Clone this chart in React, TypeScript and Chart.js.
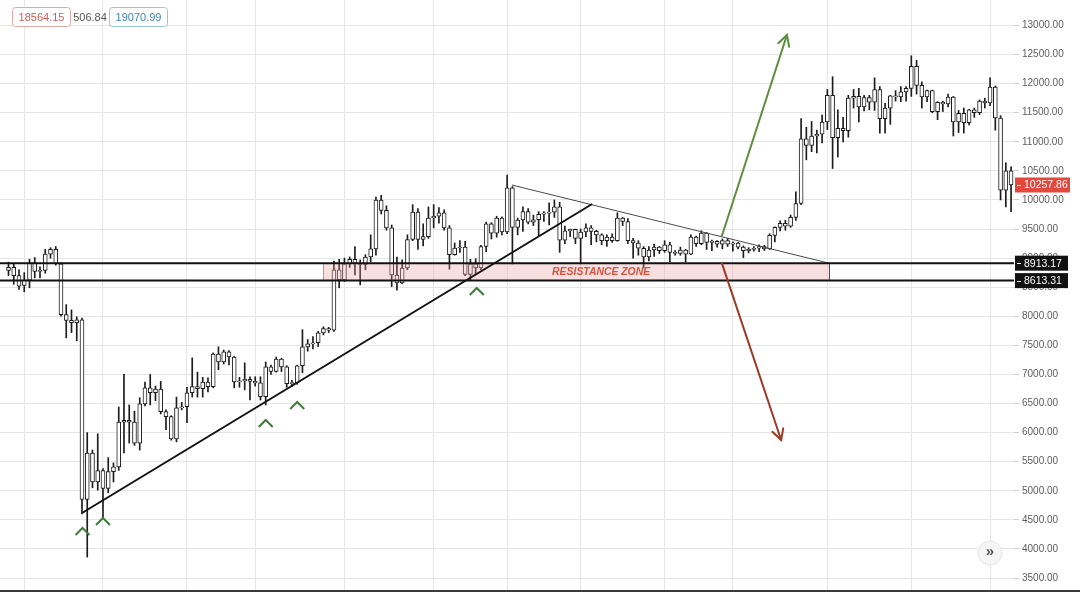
import { useEffect, useRef } from 'react';
import { Chart, registerables } from 'chart.js';

Chart.register(...registerables);

// ---------- categories (daily candles, 2020) ----------
const dates: string[] = [
  '02-27', '02-28', '02-29',
  '03-01', '03-02', '03-03', '03-04', '03-05', '03-06', '03-07', '03-08', '03-09', '03-10',
  '03-11', '03-12', '03-13', '03-14', '03-15', '03-16', '03-17', '03-18', '03-19', '03-20',
  '03-21', '03-22', '03-23', '03-24', '03-25', '03-26', '03-27', '03-28', '03-29', '03-30', '03-31',
  '04-01', '04-02', '04-03', '04-04', '04-05', '04-06', '04-07', '04-08', '04-09', '04-10',
  '04-11', '04-12', '04-13', '04-14', '04-15', '04-16', '04-17', '04-18', '04-19', '04-20',
  '04-21', '04-22', '04-23', '04-24', '04-25', '04-26', '04-27', '04-28', '04-29', '04-30',
  '05-01', '05-02', '05-03', '05-04', '05-05', '05-06', '05-07', '05-08', '05-09', '05-10',
  '05-11', '05-12', '05-13', '05-14', '05-15', '05-16', '05-17', '05-18', '05-19', '05-20',
  '05-21', '05-22', '05-23', '05-24', '05-25', '05-26', '05-27', '05-28', '05-29', '05-30', '05-31',
  '06-01', '06-02', '06-03', '06-04', '06-05', '06-06', '06-07', '06-08', '06-09', '06-10',
  '06-11', '06-12', '06-13', '06-14', '06-15', '06-16', '06-17', '06-18', '06-19', '06-20',
  '06-21', '06-22', '06-23', '06-24', '06-25', '06-26', '06-27', '06-28', '06-29', '06-30',
  '07-01', '07-02', '07-03', '07-04', '07-05', '07-06', '07-07', '07-08', '07-09', '07-10',
  '07-11', '07-12', '07-13', '07-14', '07-15', '07-16', '07-17', '07-18', '07-19', '07-20',
  '07-21', '07-22', '07-23', '07-24', '07-25', '07-26', '07-27', '07-28', '07-29', '07-30', '07-31',
  '08-01', '08-02', '08-03', '08-04', '08-05', '08-06', '08-07', '08-08', '08-09', '08-10',
  '08-11', '08-12', '08-13', '08-14', '08-15', '08-16', '08-17', '08-18', '08-19', '08-20',
  '08-21', '08-22', '08-23', '08-24', '08-25', '08-26', '08-27', '08-28', '08-29', '08-30', '08-31',
  '09-01', '09-02', '09-03', '09-04', '09-05',
];

// ---------- OHLC series ----------
const openPrices: number[] = [
  // Feb
  8790, 8840, 8700,
  // Mar
  8530, 8620, 8920, 8770, 8790, 9070, 9150, 8900, 8030, 7930,
  7890, 7940, 4850, 5650, 5150, 5345, 5040, 5330, 5410, 6180,
  6210, 6180, 5820, 6495, 6770, 6685, 6750, 6360, 6275, 5890, 6425,
  // Apr
  6445, 6685, 6790, 6755, 6870, 6790, 7350, 7215, 7390, 7300,
  6870, 6890, 6915, 6880, 6855, 6620, 7130, 7050, 7265, 7130,
  6840, 6860, 7150, 7475, 7525, 7545, 7715, 7790, 7760, 8800,
  // May
  8625, 8900, 8980, 8910, 8890, 9020, 9160, 10000, 9820, 9520,
  8710, 8575, 8830, 9320, 9790, 9320, 9370, 9690, 9720, 9780,
  9520, 9060, 9175, 9190, 8720, 8900, 8830, 9200, 9590, 9430, 9690,
  // Jun
  9450, 10210, 9530, 9656, 9800, 9620, 9660, 9755, 9775, 9790,
  9880, 9310, 9470, 9495, 9340, 9450, 9520, 9460, 9400, 9300,
  9360, 9300, 9690, 9630, 9300, 9260, 9170, 9020, 9140, 9190,
  // Jul
  9130, 9230, 9100, 9080, 9140, 9070, 9360, 9250, 9430, 9270,
  9290, 9240, 9300, 9240, 9260, 9190, 9130, 9150, 9170, 9200,
  9160, 9390, 9530, 9600, 9550, 9700, 9940, 11050, 10940, 11100, 11130,
  // Aug
  11340, 11800, 11070, 11230, 11190, 11750, 11780, 11600, 11760, 11680,
  11900, 11400, 11580, 11790, 11770, 11860, 11920, 12300, 11970, 11770,
  11880, 11520, 11680, 11650, 11770, 11340, 11490, 11330, 11550, 11500, 11700,
  // Sep
  11670, 11940, 11410, 10170, 10500,
];

const highPrices: number[] = [
  // Feb
  8930, 8910, 8800,
  // Mar
  8750, 8980, 9010, 8850, 9150, 9180, 9200, 8920, 8200, 8110,
  7990, 7970, 6000, 5700, 5980, 5380, 5570, 5480, 6440, 7000,
  6475, 6370, 6600, 6870, 7000, 6800, 6880, 6390, 6290, 6610, 6520,
  // Apr
  6780, 7285, 7040, 6950, 6940, 7370, 7475, 7420, 7410, 7310,
  6950, 7200, 6960, 6960, 6960, 7215, 7160, 7300, 7280, 7150,
  6900, 7160, 7770, 7600, 7650, 7740, 7820, 7810, 8950, 8980,
  // May
  9000, 9020, 9200, 8970, 9060, 9400, 10050, 10080, 9900, 9570,
  9020, 8970, 9400, 9920, 9850, 9590, 9880, 9920, 9870, 9830,
  9560, 9260, 9300, 9290, 8980, 8990, 9220, 9620, 9610, 9720, 9710,
  // Jun
  10430, 10230, 9690, 9880, 9850, 9740, 9800, 9800, 9950, 10000,
  9960, 9550, 9500, 9500, 9500, 9590, 9560, 9480, 9420, 9400,
  9420, 9780, 9700, 9680, 9340, 9300, 9200, 9200, 9240, 9200,
  // Jul
  9300, 9270, 9130, 9190, 9150, 9400, 9380, 9470, 9440, 9310,
  9300, 9330, 9340, 9280, 9270, 9210, 9180, 9200, 9230, 9220,
  9420, 9540, 9640, 9650, 9740, 10140, 11400, 11250, 11350, 11200, 11460,
  // Aug
  11900, 12120, 11550, 11420, 11800, 11900, 11920, 11800, 11800, 12100,
  11950, 11660, 11800, 11880, 11950, 11950, 12480, 12400, 12030, 11890,
  11890, 11690, 11700, 11820, 11780, 11540, 11580, 11560, 11580, 11720, 11750,
  // Sep
  12100, 11960, 11450, 10640, 10570,
];

const lowPrices: number[] = [
  // Feb
  8700, 8550, 8460,
  // Mar
  8420, 8490, 8660, 8660, 8740, 9000, 8880, 8000, 7630, 7720,
  7580, 4600, 3860, 5050, 5010, 4520, 4965, 5150, 5350, 5650,
  5820, 5780, 5700, 6460, 6475, 6550, 6320, 6050, 5870, 5840, 6390,
  // Apr
  6170, 6610, 6610, 6610, 6700, 6770, 7080, 7180, 7165, 6770,
  6780, 6735, 6560, 6800, 6560, 6475, 7000, 7040, 7050, 6780,
  6790, 6830, 7030, 7400, 7440, 7480, 7680, 7720, 7740, 8490,
  // May
  8600, 8840, 8710, 8540, 8800, 8940, 9050, 9760, 9480, 8510,
  8450, 8560, 8800, 9300, 9150, 9210, 9340, 9520, 9600, 9480,
  8810, 9050, 9100, 8700, 8630, 8720, 8800, 9110, 9330, 9360, 9400,
  // Jun
  9420, 8900, 9400, 9460, 9590, 9560, 9380, 9630, 9570, 9700,
  9100, 9250, 9370, 9250, 8900, 9370, 9230, 9280, 9230, 9200,
  9270, 9290, 9560, 9250, 9000, 9050, 8830, 8950, 9030, 9080,
  // Jul
  9100, 8940, 9050, 9050, 8930, 9060, 9200, 9230, 9150, 9130,
  9190, 9160, 9200, 9120, 9160, 9010, 9090, 9120, 9110, 9130,
  9150, 9280, 9470, 9480, 9530, 9650, 9920, 10690, 10830, 10810, 10980,
  // Aug
  11210, 10540, 10740, 11000, 11080, 11580, 11340, 11530, 11550, 11540,
  11150, 11150, 11300, 11700, 11690, 11700, 11780, 11820, 11580, 11690,
  11500, 11380, 11520, 11600, 11100, 11160, 11150, 11290, 11420, 11470, 11580,
  // Sep
  11620, 11200, 10000, 9880, 9800,
];

const closePrices: number[] = [
  // Feb
  8840, 8700, 8520,
  // Mar
  8620, 8920, 8770, 8790, 9070, 9150, 8900, 8030, 7930, 7890,
  7940, 4850, 5650, 5150, 5345, 5040, 5330, 5410, 6180, 6210,
  6180, 5820, 6495, 6770, 6685, 6750, 6360, 6275, 5890, 6425, 6445,
  // Apr
  6685, 6790, 6755, 6870, 6790, 7350, 7215, 7390, 7300, 6870,
  6890, 6915, 6880, 6855, 6620, 7130, 7050, 7265, 7130, 6840,
  6860, 7150, 7475, 7525, 7545, 7715, 7790, 7760, 8800, 8625,
  // May
  8900, 8980, 8910, 8890, 9020, 9160, 10000, 9820, 9520, 8710,
  8575, 8830, 9320, 9790, 9320, 9370, 9690, 9720, 9780, 9520,
  9060, 9175, 9190, 8720, 8900, 8830, 9200, 9590, 9430, 9690, 9450,
  // Jun
  10210, 9530, 9656, 9800, 9620, 9660, 9755, 9775, 9790, 9880,
  9310, 9470, 9495, 9340, 9450, 9520, 9460, 9400, 9300, 9360,
  9300, 9690, 9630, 9300, 9260, 9170, 9020, 9140, 9190, 9130,
  // Jul
  9230, 9100, 9080, 9140, 9070, 9360, 9250, 9430, 9270, 9290,
  9240, 9300, 9240, 9260, 9190, 9130, 9150, 9170, 9200, 9160,
  9390, 9530, 9600, 9550, 9700, 9940, 11050, 10940, 11100, 11130, 11340,
  // Aug
  11800, 11070, 11230, 11190, 11750, 11780, 11600, 11760, 11680, 11900,
  11400, 11580, 11790, 11770, 11860, 11920, 12300, 11970, 11770, 11880,
  11520, 11680, 11650, 11770, 11340, 11490, 11330, 11550, 11500, 11700, 11670,
  // Sep
  11940, 11410, 10170, 10500, 10257.86,
];

// ---------- axis / labels ----------
const gridDates = ['03-01', '03-16', '04-01', '04-14', '05-01', '05-18', '06-01', '06-15', '07-01', '07-14', '08-01', '08-17', '09-01'];
const priceTicks = [3500, 4000, 4500, 5000, 5500, 6000, 6500, 7000, 7500, 8000, 8500, 9000, 9500, 10000, 10500, 11000, 11500, 12000, 12500, 13000];
const priceMin = 3293.7;
const priceMax = 13438.5;
const resistanceLevels = [8913.17, 8613.31];
const lastPrice = 10257.86;
const headerValues = ['18564.15', '506.84', '19070.99'];

// ---------- drawings, anchored in (candle index, price) ----------
const risingTrend = [[14.0, 4618], [111.2, 9931]];
const fallingTrend = [[95.9, 10257], [156.3, 8913.17]];
const zoneSpan = [59.9, 156.3];
const zoneLabel = { text: 'RESISTANCE ZONE', at: 112.9 };
const bullArrow = [[135.9, 9380], [148.3, 12837]];
const bearArrow = [[135.9, 8913.17], [147.2, 5873]];
const supportMarks = [[14.1, 4360], [18.0, 4532], [49.0, 6217], [55.0, 6526], [89.2, 8486]];

const FONT = '"Liberation Sans", Arial, sans-serif';

function roundRect(ctx: CanvasRenderingContext2D, x: number, y: number, w: number, h: number, r: number) {
  ctx.beginPath();
  ctx.moveTo(x + r, y);
  ctx.lineTo(x + w - r, y);
  ctx.quadraticCurveTo(x + w, y, x + w, y + r);
  ctx.lineTo(x + w, y + h - r);
  ctx.quadraticCurveTo(x + w, y + h, x + w - r, y + h);
  ctx.lineTo(x + r, y + h);
  ctx.quadraticCurveTo(x, y + h, x, y + h - r);
  ctx.lineTo(x, y + r);
  ctx.quadraticCurveTo(x, y, x + r, y);
  ctx.closePath();
}

const drawingsPlugin = {
  id: 'drawings',
  afterDatasetsDraw(chart: any) {
    const { ctx, chartArea: a, scales } = chart;
    const xs = scales.x;
    const ys = scales.y;
    const px = (i: number) => xs.getPixelForValue(i);
    const py = (v: number) => ys.getPixelForValue(v);
    ctx.save();
    ctx.beginPath();
    ctx.rect(a.left, a.top, a.right - a.left, a.bottom - a.top);
    ctx.clip();

    // resistance zone
    const zx1 = px(zoneSpan[0]);
    const zx2 = px(zoneSpan[1]);
    const zy1 = py(resistanceLevels[0]);
    const zy2 = py(resistanceLevels[1]);
    ctx.fillStyle = 'rgba(238, 160, 160, 0.33)';
    ctx.fillRect(zx1, zy1, zx2 - zx1, zy2 - zy1);
    ctx.lineWidth = 1;
    ctx.strokeStyle = 'rgba(205, 130, 130, 0.9)';
    ctx.beginPath();
    ctx.moveTo(Math.round(zx1) + 0.5, zy1);
    ctx.lineTo(Math.round(zx1) + 0.5, zy2);
    ctx.stroke();
    ctx.strokeStyle = 'rgba(60, 40, 40, 0.85)';
    ctx.beginPath();
    ctx.moveTo(Math.round(zx2) + 0.5, zy1);
    ctx.lineTo(Math.round(zx2) + 0.5, zy2);
    ctx.stroke();

    // zone label
    ctx.save();
    ctx.font = `italic bold 11px ${FONT}`;
    ctx.fillStyle = '#d4553f';
    ctx.textAlign = 'center';
    ctx.textBaseline = 'middle';
    const tw = ctx.measureText(zoneLabel.text).width;
    const target = 98;
    const cx = px(zoneLabel.at);
    const cy = (zy1 + zy2) / 2 + 0.5;
    ctx.translate(cx, cy);
    ctx.scale(target / tw, 1);
    ctx.fillText(zoneLabel.text, 0, 0);
    ctx.restore();

    // falling trend (thin)
    ctx.strokeStyle = '#4a4a4a';
    ctx.lineWidth = 1;
    ctx.beginPath();
    ctx.moveTo(px(fallingTrend[0][0]), py(fallingTrend[0][1]));
    ctx.lineTo(px(fallingTrend[1][0]), py(fallingTrend[1][1]));
    ctx.stroke();

    // resistance lines
    ctx.strokeStyle = '#111111';
    ctx.lineWidth = 2;
    resistanceLevels.forEach((lv) => {
      const yy = py(lv);
      ctx.beginPath();
      ctx.moveTo(a.left, yy);
      ctx.lineTo(a.right, yy);
      ctx.stroke();
    });

    // rising trend
    ctx.strokeStyle = '#111111';
    ctx.lineWidth = 2;
    ctx.beginPath();
    ctx.moveTo(px(risingTrend[0][0]), py(risingTrend[0][1]));
    ctx.lineTo(px(risingTrend[1][0]), py(risingTrend[1][1]));
    ctx.stroke();

    // arrows
    const arrow = (pts: number[][], color: string) => {
      const x1 = px(pts[0][0]);
      const y1 = py(pts[0][1]);
      const x2 = px(pts[1][0]);
      const y2 = py(pts[1][1]);
      ctx.strokeStyle = color;
      ctx.lineWidth = 2;
      ctx.lineCap = 'round';
      ctx.beginPath();
      ctx.moveTo(x1, y1);
      ctx.lineTo(x2, y2);
      ctx.stroke();
      const ang = Math.atan2(y2 - y1, x2 - x1);
      const L = 12;
      const spread = 0.5;
      ctx.beginPath();
      ctx.moveTo(x2 - L * Math.cos(ang - spread), y2 - L * Math.sin(ang - spread));
      ctx.lineTo(x2, y2);
      ctx.lineTo(x2 - L * Math.cos(ang + spread), y2 - L * Math.sin(ang + spread));
      ctx.stroke();
    };
    arrow(bullArrow, '#5b8f3c');
    arrow(bearArrow, '#9a3a27');

    // support carets
    ctx.strokeStyle = '#3f7d3a';
    ctx.lineWidth = 2;
    ctx.lineCap = 'butt';
    ctx.lineJoin = 'miter';
    supportMarks.forEach(([i, v]) => {
      const cxm = px(i);
      const cym = py(v);
      ctx.beginPath();
      ctx.moveTo(cxm - 7, cym + 7);
      ctx.lineTo(cxm, cym);
      ctx.lineTo(cxm + 7, cym + 7);
      ctx.stroke();
    });

    ctx.restore();
  },
  afterDraw(chart: any) {
    const { ctx, chartArea: a, scales, width, height } = chart;
    const ys = scales.y;
    const py = (v: number) => ys.getPixelForValue(v);
    ctx.save();

    // price axis labels for levels
    const axisBox = (v: number, txt: string, bg: string, w: number) => {
      const yy = py(v);
      const bx = a.right + 1;
      ctx.fillStyle = bg;
      ctx.fillRect(bx, yy - 7.5, w, 15);
      ctx.strokeStyle = '#ffffff';
      ctx.lineWidth = 1;
      ctx.beginPath();
      ctx.moveTo(bx + 2, Math.round(yy) + 0.5);
      ctx.lineTo(bx + 6, Math.round(yy) + 0.5);
      ctx.stroke();
      ctx.fillStyle = '#ffffff';
      ctx.font = `10.5px ${FONT}`;
      ctx.textAlign = 'left';
      ctx.textBaseline = 'middle';
      ctx.fillText(txt, bx + 9, yy + 0.5);
    };
    axisBox(resistanceLevels[0], resistanceLevels[0].toFixed(2), '#111111', 53);
    axisBox(resistanceLevels[1], resistanceLevels[1].toFixed(2), '#111111', 53);
    axisBox(lastPrice, lastPrice.toFixed(2), '#e4473b', 55);

    // header values
    ctx.font = `11px ${FONT}`;
    ctx.textBaseline = 'middle';
    ctx.textAlign = 'center';
    ctx.lineWidth = 1;
    roundRect(ctx, 12.5, 7.5, 58, 19, 3);
    ctx.fillStyle = '#ffffff';
    ctx.fill();
    ctx.strokeStyle = '#e2a9a6';
    ctx.stroke();
    ctx.fillStyle = '#c9605b';
    ctx.fillText(headerValues[0], 41.5, 17.5);
    ctx.fillStyle = '#555555';
    ctx.fillText(headerValues[1], 90, 17.5);
    roundRect(ctx, 109.5, 7.5, 58, 19, 3);
    ctx.fillStyle = '#ffffff';
    ctx.fill();
    ctx.strokeStyle = '#9cc4de';
    ctx.stroke();
    ctx.fillStyle = '#3c84b8';
    ctx.fillText(headerValues[2], 138.5, 17.5);

    // scroll button
    const bxc = a.right - 24;
    const byc = a.bottom - 37;
    ctx.beginPath();
    ctx.arc(bxc, byc, 12, 0, Math.PI * 2);
    ctx.fillStyle = '#f5f5f5';
    ctx.fill();
    ctx.strokeStyle = '#e6e6e6';
    ctx.stroke();
    ctx.fillStyle = '#555555';
    ctx.font = `bold 15px ${FONT}`;
    ctx.textAlign = 'center';
    ctx.fillText('\u00bb', bxc, byc - 1);

    // bottom border
    ctx.fillStyle = '#3a3a3a';
    ctx.fillRect(0, a.bottom, width, height - a.bottom);
    ctx.restore();
  },
};

export default function App() {
  const ref = useRef<HTMLCanvasElement | null>(null);

  useEffect(() => {
    if (!ref.current) return;
    Chart.defaults.font.family = FONT;
    const bodies = dates.map((_, i) => ({
      x: i,
      y: [Math.min(openPrices[i], closePrices[i]), Math.max(openPrices[i], closePrices[i])],
    }));
    const wicks = dates.map((_, i) => ({ x: i, y: [lowPrices[i], highPrices[i]] }));
    const gridIdx = gridDates.map((d) => dates.indexOf(d));

    const chart = new Chart(ref.current, {
      type: 'bar',
      data: {
        datasets: [
          {
            label: 'body',
            data: bodies as any,
            backgroundColor: '#ffffff',
            borderColor: '#1c1c1c',
            borderWidth: 1,
            borderSkipped: false,
            barThickness: 4,
            grouped: false,
            order: 0,
          } as any,
          {
            label: 'wick',
            data: wicks as any,
            backgroundColor: '#1c1c1c',
            borderWidth: 0,
            barThickness: 1,
            grouped: false,
            order: 1,
          } as any,
        ],
      },
      options: {
        animation: false,
        responsive: true,
        maintainAspectRatio: false,
        layout: { padding: { top: 0, bottom: 2, left: 0, right: 0 } },
        plugins: { legend: { display: false }, tooltip: { enabled: false } },
        scales: {
          x: {
            type: 'linear',
            min: -1.62,
            max: 191.56,
            offset: false,
            grid: { color: '#e6e6e6', drawTicks: false, offset: false },
            border: { display: false },
            ticks: { display: false },
            afterBuildTicks: (s: any) => {
              s.ticks = gridIdx.map((v) => ({ value: v }));
            },
            afterFit: (s: any) => {
              s.height = 0;
              s.paddingLeft = 0;
              s.paddingRight = 0;
            },
          },
          y: {
            position: 'right',
            min: priceMin,
            max: priceMax,
            grid: { color: '#e6e6e6', tickLength: 5, tickColor: '#cfcfcf', offset: false },
            border: { display: false },
            ticks: {
              padding: 3,
              color: '#5d5d5d',
              font: { family: FONT, size: 10 },
              callback: (v: any) => Number(v).toFixed(2),
            },
            afterBuildTicks: (s: any) => {
              s.ticks = priceTicks.map((v) => ({ value: v }));
            },
            afterFit: (s: any) => {
              s.width = 66;
              s.paddingTop = 0;
              s.paddingBottom = 0;
            },
          },
        },
      } as any,
      plugins: [drawingsPlugin as any],
    });
    return () => chart.destroy();
  }, []);

  return (
    <div style={{ position: 'fixed', left: 0, top: 0, width: 1080, height: 592, background: '#ffffff' }}>
      <canvas ref={ref} />
    </div>
  );
}
